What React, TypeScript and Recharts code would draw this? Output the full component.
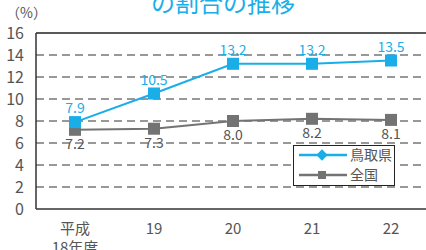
import React from 'react';
import { LineChart, Line, XAxis, YAxis, CartesianGrid, ReferenceLine, LabelList } from 'recharts';

const years = ['平成\n18年度', '19', '20', '21', '22'];
const tottori = [7.9, 10.5, 13.2, 13.2, 13.5];
const national = [7.2, 7.3, 8.0, 8.2, 8.1];
const yTicks = [0, 2, 4, 6, 8, 10, 12, 14, 16];

const CYAN = '#1aaee8';
const GRAY = '#737373';
const FONT = '"Noto Sans CJK JP", "Noto Sans", sans-serif';

const data = years.map((y, i) => ({ year: y, tottori: tottori[i], national: national[i] }));

const Square = (color: string) => (props: any) => {
  const { cx, cy } = props;
  if (cx == null || cy == null) return null;
  return <rect x={cx - 6} y={cy - 6} width={12} height={12} fill={color} />;
};

const XTick = (props: any) => {
  const { x, y, payload } = props;
  const lines = String(payload.value).split('\n');
  return (
    <text x={x} y={y + 17} textAnchor="middle" fill="#555" fontSize={15} fontFamily={FONT}>
      {lines.map((l, i) => (
        <tspan key={i} x={x} dy={i === 0 ? 0 : 19}>{l}</tspan>
      ))}
    </text>
  );
};

function LegendBox() {
  const rows = [
    { name: '鳥取県', color: CYAN, diamond: true },
    { name: '全国', color: GRAY, diamond: false },
  ];
  return (
    <svg width={102} height={41} style={{ position: 'absolute', left: 293, top: 145 }}>
      <rect x={0.5} y={0.5} width={101} height={40} fill="#fff" stroke="#222" />
      {rows.map((r, i) => {
        const cy = 10 + i * 20;
        return (
          <g key={r.name}>
            <line x1={6} x2={54} y1={cy} y2={cy} stroke={r.color} strokeWidth={2.5} />
            {r.diamond ? (
              <rect x={25} y={cy - 4} width={8} height={8} fill={r.color} transform={`rotate(45 29 ${cy})`} />
            ) : (
              <rect x={25} y={cy - 4} width={8} height={8} fill={r.color} />
            )}
            <text x={57} y={cy + 5} fontSize={14} fill="#555" fontFamily={FONT}>{r.name}</text>
          </g>
        );
      })}
    </svg>
  );
}

export default function App() {
  return (
    <div style={{ position: 'absolute', left: 0, top: 0, width: 426, height: 250, overflow: 'hidden', background: '#fff' }}>
      <div style={{ position: 'absolute', left: 0, width: 446, top: -12, textAlign: 'center', color: CYAN, fontSize: 24, fontFamily: FONT, lineHeight: '28px' }}>
        の割合の推移
      </div>
      <div style={{ position: 'absolute', left: 6, top: 3, color: '#555', fontSize: 14, fontFamily: FONT, lineHeight: '18px' }}>
        （%）
      </div>
      <LineChart width={440} height={250} data={data} margin={{ top: 33, right: 9, bottom: 0, left: 0 }}>
        <CartesianGrid vertical={false} stroke="#333" strokeDasharray="8 5" horizontalValues={[2, 4, 6, 8, 10, 12, 14]} />
        <ReferenceLine y={16} stroke="#222" strokeWidth={1.5} />
        <XAxis
          dataKey="year"
          height={41}
          padding={{ left: 39, right: 40 }}
          axisLine={{ stroke: '#333', strokeWidth: 1.5 }}
          tickLine={false}
          tick={<XTick />}
          interval={0}
        />
        <YAxis
          width={36}
          domain={[0, 16]}
          ticks={yTicks}
          interval={0}
          axisLine={{ stroke: '#333', strokeWidth: 1.5 }}
          tickLine={false}
          tick={{ fill: '#555', fontSize: 16, fontFamily: FONT }}
          tickMargin={6}
        />
        <Line dataKey="national" stroke={GRAY} strokeWidth={2} dot={Square(GRAY)} isAnimationActive={false}>
          <LabelList dataKey="national" position="bottom" offset={9} fill="#555" fontSize={14} fontFamily={FONT} formatter={(v: any) => Number(v).toFixed(1)} />
        </Line>
        <Line dataKey="tottori" stroke={CYAN} strokeWidth={2} dot={Square(CYAN)} isAnimationActive={false}>
          <LabelList dataKey="tottori" position="top" offset={9} fill={CYAN} fontSize={14} fontFamily={FONT} formatter={(v: any) => Number(v).toFixed(1)} />
        </Line>
      </LineChart>
      <LegendBox />
    </div>
  );
}
